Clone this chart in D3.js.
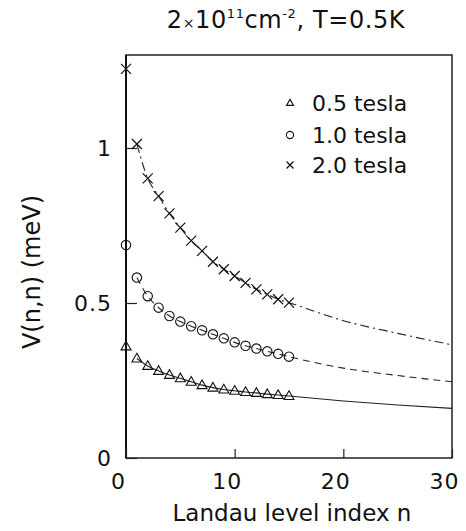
<!DOCTYPE html>
<html><head><meta charset="utf-8">
<script src="https://cdn.jsdelivr.net/npm/d3@7"></script>
<style>body{margin:0;background:#fff}svg{display:block}text{font-family:"DejaVu Sans",sans-serif;fill:#111}</style>
</head><body><svg id="c" width="466" height="531"></svg>
<script>
// Landau level index for the measured points
const levelN = [0,1,2,3,4,5,6,7,8,9,10,11,12,13,14,15];
const v05 = [0.360,0.321,0.297,0.281,0.268,0.257,0.246,0.235,0.227,0.221,0.217,0.213,0.210,0.206,0.203,0.200];
const v10 = [0.687,0.582,0.522,0.485,0.458,0.440,0.425,0.412,0.399,0.386,0.373,0.362,0.353,0.344,0.336,0.327];
const v20 = [1.255,1.013,0.902,0.845,0.789,0.743,0.701,0.668,0.633,0.609,0.587,0.565,0.544,0.528,0.512,0.501];
// theory-curve continuation beyond the measured points
const tailN = [20,25,30];
const t05 = [0.184,0.171,0.160];
const t10 = [0.290,0.266,0.246];
const t20 = [0.443,0.402,0.365];
const xTicks = [0,10,20,30];
const yTicks = [0,0.5,1];
const yTickLabels = ["0","0.5","1"];
const seriesNames = ["0.5 tesla","1.0 tesla","2.0 tesla"];

const svg = d3.select("#c");
const x = d3.scaleLinear().domain([0,30]).range([126,452]);
const y = d3.scaleLinear().domain([0,1.3]).range([458,55]);

// frame
svg.append("rect").attr("x",x(0)).attr("y",y(1.3)).attr("width",x(30)-x(0)).attr("height",y(0)-y(1.3))
  .attr("fill","none").attr("stroke","#222").attr("stroke-width",1.5);
svg.append("line").attr("x1",x(0)).attr("x2",x(0)).attr("y1",y(0)).attr("y2",y(1.3)).attr("stroke","#111").attr("stroke-width",2);

// axes with inward ticks
const xAxis = d3.axisBottom(x).tickValues(xTicks).tickSize(-9).tickFormat(d3.format("d")).tickPadding(15);
const gx = svg.append("g").attr("transform",`translate(0,${y(0)})`).call(xAxis);
gx.select(".domain").remove();
gx.selectAll(".tick line").attr("stroke","#222").attr("stroke-width",1.2);
gx.selectAll(".tick text").attr("font-size",22).attr("fill","#111").attr("dx",-8).attr("font-family","DejaVu Sans").attr("letter-spacing",1);

const yAxis = d3.axisLeft(y).tickValues(yTicks).tickSize(-11).tickFormat((d,i)=>yTickLabels[i]).tickPadding(14);
const gy = svg.append("g").attr("transform",`translate(${x(0)},0)`).call(yAxis);
gy.select(".domain").remove();
gy.selectAll(".tick line").attr("stroke","#222").attr("stroke-width",1.2);
gy.selectAll(".tick text").attr("font-size",22).attr("fill","#111").attr("font-family","DejaVu Sans").attr("letter-spacing",1);

// curves
const line = d3.line().x(d=>x(d[0])).y(d=>y(d[1])).curve(d3.curveMonotoneX);
function curvePts(vals, tail){
  const pts = levelN.slice(1).map((n,i)=>[n, vals[i+1]]);
  return pts.concat(tailN.map((n,i)=>[n, tail[i]]));
}
const curves = [
  {v:v05,t:t05,dash:null},
  {v:v10,t:t10,dash:"7,5"},
  {v:v20,t:t20,dash:"9,4,2,4"}
];
curves.forEach(c=>{
  svg.append("path").attr("d",line(curvePts(c.v,c.t))).attr("fill","none")
    .attr("stroke","#222").attr("stroke-width",1.1).attr("stroke-dasharray",c.dash);
});

// markers
function triangle(g, cx, cy, s){
  const h = s*0.866;
  g.append("path").attr("d",`M${cx},${cy-h*0.6}L${cx+s/2},${cy+h*0.4}L${cx-s/2},${cy+h*0.4}Z`)
    .attr("fill","none").attr("stroke","#111").attr("stroke-width",1.1);
}
function circle(g, cx, cy, r){
  g.append("circle").attr("cx",cx).attr("cy",cy).attr("r",r).attr("fill","none").attr("stroke","#111").attr("stroke-width",1.1);
}
function cross(g, cx, cy, s){
  g.append("path").attr("d",`M${cx-s},${cy-s}L${cx+s},${cy+s}M${cx-s},${cy+s}L${cx+s},${cy-s}`)
    .attr("stroke","#111").attr("stroke-width",1.2);
}
const gm = svg.append("g");
levelN.forEach((n,i)=>{
  triangle(gm, x(n), y(v05[i]), 10);
  circle(gm, x(n), y(v10[i]), 4.7);
  cross(gm, x(n), y(v20[i]), 5);
});

// legend
const lg = svg.append("g");
const rows = [103,135,165];
triangle(lg, 290, rows[0], 7);
circle(lg, 290, rows[1], 3.6);
cross(lg, 290, rows[2], 3.5);
seriesNames.forEach((s,i)=>{
  lg.append("text").attr("x",312).attr("y",rows[i]+8).attr("font-size",22).text(s);
});

// title
const title = svg.append("text").attr("x",286).attr("y",28).attr("text-anchor","middle").attr("font-size",24).attr("letter-spacing",0.6);
title.append("tspan").text("2");
title.append("tspan").attr("font-size",14).text("×");
title.append("tspan").text("10");
title.append("tspan").attr("font-size",13).attr("dy",-10).text("11");
title.append("tspan").attr("dy",10).text("cm");
title.append("tspan").attr("font-size",13).attr("dy",-10).text("-2");
title.append("tspan").attr("dy",10).text(", T=0.5K");

// axis labels
svg.append("text").attr("x",292).attr("y",521).attr("text-anchor","middle").attr("font-size",23).text("Landau level index n");
svg.append("text").attr("transform","translate(40,272) rotate(-90)").attr("text-anchor","middle").attr("font-size",24).text("V(n,n) (meV)");
</script></body></html>
